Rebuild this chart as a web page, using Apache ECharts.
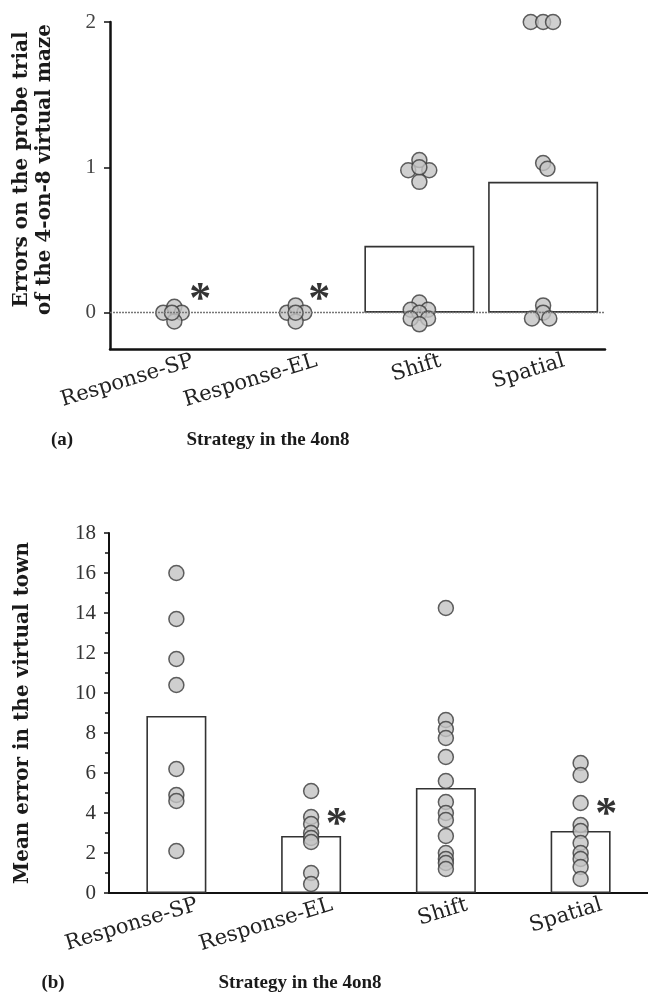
<!DOCTYPE html>
<html>
<head>
<meta charset="utf-8">
<script src="https://cdn.jsdelivr.net/npm/echarts@6/dist/echarts.min.js"></script>
<style>html,body{margin:0;padding:0;background:#fff}#c{width:648px;height:999px}</style>
</head>
<body>
<div id="c"></div>
<script>
// ---- data ----
const categories = ['Response-SP', 'Response-EL', 'Shift', 'Spatial'];
const topYTicks = [0, 1, 2];
const topMeans = [0, 0, 0.46, 0.90];
// top panel dots: [offset within category, value]
const topSP = [[-0.07, 0], [0.02, 0.04], [0.08, 0], [0.02, -0.06], [0, 0]];
const topEL = [[-0.07, 0], [0, 0.05], [0.07, 0], [0, -0.06], [0, 0]];
const topShift = [[0, 1.05], [-0.09, 0.98], [0.08, 0.98], [0, 0.9], [0, 1.0],
  [0, 0.07], [-0.07, 0.02], [0.07, 0.02], [0, 0], [-0.07, -0.04], [0.07, -0.04], [0, -0.08]];
const topSpatial = [[-0.1, 2], [0, 2], [0.08, 2], [0, 1.03], [0.035, 0.99],
  [0, 0.05], [0, 0], [-0.09, -0.04], [0.05, -0.04]];
const topStars = [[0.23, 0.08], [1.19, 0.08]];

const botYTicks = [0, 2, 4, 6, 8, 10, 12, 14, 16, 18];
const botMeans = [8.85, 2.85, 5.25, 3.1];
const botSP = [16.0, 13.7, 11.7, 10.4, 6.2, 4.9, 4.6, 2.1];
const botEL = [5.1, 3.8, 3.45, 3.0, 2.75, 2.55, 1.0, 0.45];
const botShift = [14.25, 8.65, 8.2, 7.75, 6.8, 5.6, 4.55, 4.0, 3.65, 2.85, 2.0, 1.7, 1.5, 1.2];
const botSpatial = [6.5, 5.9, 4.5, 3.4, 3.1, 2.5, 2.0, 1.7, 1.3, 0.7];
const botStars = [[1.19, 3.35], [3.19, 3.85]];

// ---- build ----
const topGroups = [topSP, topEL, topShift, topSpatial];
const botGroups = [botSP, botEL, botShift, botSpatial];
const topDots = [];
topGroups.forEach((g, i) => g.forEach(p => topDots.push([i + p[0], p[1]])));
const botDots = [];
botGroups.forEach((g, i) => g.forEach(v => botDots.push([i, v])));

const serif = 'Liberation Serif';
const wide = 'DejaVu Serif';
const dotStyle = { color: '#c3c3c3', borderColor: '#3a3a3a', borderWidth: 1.5 };
const barStyle = { color: '#fff', borderColor: '#333', borderWidth: 1.6 };
const catLabel = {
  interval: 0, rotate: 17, margin: 18, padding: [0, -22, 0, 0],
  fontFamily: wide, fontSize: 21, color: '#222'
};
const starLabel = {
  show: true, formatter: '*', position: 'inside',
  fontFamily: serif, fontWeight: 'bold', fontSize: 44, color: '#000'
};
const hiddenItem = { color: 'rgba(0,0,0,0)', borderWidth: 0 };

const chart = echarts.init(document.getElementById('c'), null, { renderer: 'canvas' });
chart.setOption({
  animation: false,
  backgroundColor: '#fff',
  grid: [
    { left: 110, right: 43, top: 22, bottom: 650 },
    { left: 109, right: -1, top: 533, bottom: 106 }
  ],
  xAxis: [
    { type: 'category', gridIndex: 0, data: categories,
      axisLine: { onZero: false, lineStyle: { color: '#111', width: 2.5 } },
      axisTick: { show: false }, axisLabel: catLabel },
    { type: 'value', gridIndex: 0, min: -0.5, max: 3.5, show: false },
    { type: 'category', gridIndex: 1, data: categories,
      axisLine: { onZero: false, lineStyle: { color: '#111', width: 2 } },
      axisTick: { show: false }, axisLabel: catLabel },
    { type: 'value', gridIndex: 1, min: -0.5, max: 3.5, show: false }
  ],
  yAxis: [
    { type: 'value', gridIndex: 0, min: -0.25, max: 2,
      name: 'Errors on the probe trial\nof the 4-on-8 virtual maze',
      nameLocation: 'middle', nameRotate: 90, nameGap: 54,
      nameTextStyle: { fontFamily: wide, fontWeight: 'bold', fontSize: 20, lineHeight: 23,
        color: '#1a1a1a', padding: [0, 0, 0, 32] },
      axisLine: { show: true, onZero: false, lineStyle: { color: '#111', width: 2.5 } },
      axisTick: { show: true, length: 6, customValues: topYTicks, lineStyle: { color: '#111', width: 1.5 } },
      axisLabel: { customValues: topYTicks, margin: 14, fontFamily: serif, fontSize: 21, color: '#444' },
      splitLine: { show: false } },
    { type: 'value', gridIndex: 1, min: 0, max: 18, interval: 2,
      name: 'Mean error in the virtual town',
      nameLocation: 'middle', nameRotate: 90, nameGap: 76,
      nameTextStyle: { fontFamily: wide, fontWeight: 'bold', fontSize: 20, color: '#1a1a1a' },
      axisLine: { show: true, onZero: false, lineStyle: { color: '#111', width: 2 } },
      axisTick: { show: true, length: 5, lineStyle: { color: '#111', width: 1.5 } },
      minorTick: { show: true, splitNumber: 2, length: 4, lineStyle: { color: '#111', width: 1.5 } },
      axisLabel: { margin: 13, fontFamily: serif, fontSize: 21, color: '#333' },
      splitLine: { show: false } }
  ],
  series: [
    { type: 'bar', xAxisIndex: 0, yAxisIndex: 0, barWidth: 110,
      data: topMeans.map(v => (v === 0 ? '-' : v)), itemStyle: barStyle,
      markLine: { silent: true, symbol: 'none', label: { show: false },
        lineStyle: { type: [2, 1], color: '#777', width: 1.3 },
        data: [{ yAxis: 0 }] } },
    { type: 'scatter', xAxisIndex: 1, yAxisIndex: 0, symbolSize: 15,
      data: topDots, itemStyle: dotStyle },
    { type: 'scatter', xAxisIndex: 1, yAxisIndex: 0, symbolSize: 2,
      data: topStars, itemStyle: hiddenItem, label: starLabel },
    { type: 'bar', xAxisIndex: 2, yAxisIndex: 1, barWidth: 60,
      data: botMeans, itemStyle: barStyle },
    { type: 'scatter', xAxisIndex: 3, yAxisIndex: 1, symbolSize: 15,
      data: botDots, itemStyle: dotStyle },
    { type: 'scatter', xAxisIndex: 3, yAxisIndex: 1, symbolSize: 2,
      data: botStars, itemStyle: hiddenItem, label: starLabel }
  ],
  graphic: [
    { type: 'text', x: 62, y: 440, style: { text: '(a)', align: 'center', verticalAlign: 'middle',
      font: 'bold 19px "Liberation Serif"', fill: '#1a1a1a' } },
    { type: 'text', x: 268, y: 440, style: { text: 'Strategy in the 4on8', align: 'center', verticalAlign: 'middle',
      font: 'bold 19px "Liberation Serif"', fill: '#1a1a1a' } },
    { type: 'text', x: 53, y: 983, style: { text: '(b)', align: 'center', verticalAlign: 'middle',
      font: 'bold 19px "Liberation Serif"', fill: '#1a1a1a' } },
    { type: 'text', x: 300, y: 983, style: { text: 'Strategy in the 4on8', align: 'center', verticalAlign: 'middle',
      font: 'bold 19px "Liberation Serif"', fill: '#1a1a1a' } }
  ]
});
</script>
</body>
</html>
